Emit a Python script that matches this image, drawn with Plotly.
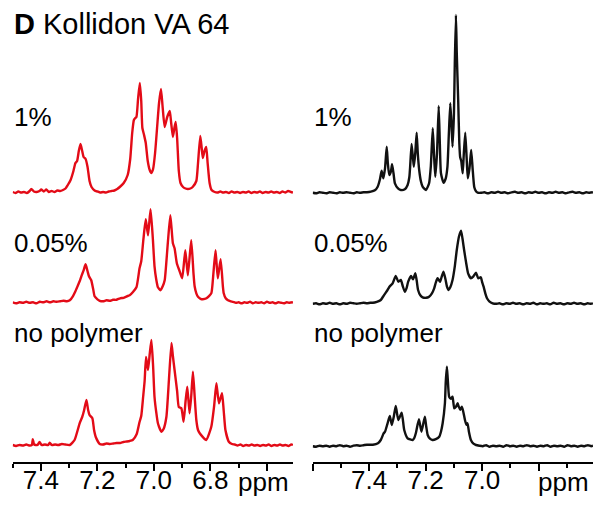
import plotly.graph_objects as go

# ---------------- data (ppm, intensity) ----------------
L_1PCT_PPM = [7.500, 7.490, 7.480, 7.470, 7.460, 7.450, 7.440, 7.434, 7.425, 7.415, 7.405, 7.399, 7.390, 7.381,
              7.372, 7.362, 7.352, 7.342, 7.332, 7.322, 7.313,
              7.305, 7.295, 7.285, 7.278, 7.272, 7.266, 7.260, 7.254, 7.249, 7.242, 7.235, 7.228, 7.221, 7.210,
              7.200, 7.190, 7.180, 7.170, 7.160, 7.150, 7.140, 7.130, 7.121, 7.107, 7.093, 7.084, 7.077, 7.071,
              7.066, 7.062, 7.056, 7.050, 7.045, 7.041, 7.035, 7.029, 7.022, 7.015, 7.009, 7.003, 6.996, 6.989,
              6.982, 6.975, 6.969, 6.962, 6.953, 6.944, 6.939, 6.933, 6.927, 6.923, 6.918, 6.912, 6.906, 6.897,
              6.888, 6.880, 6.871, 6.863, 6.850, 6.844, 6.836, 6.831, 6.827, 6.821, 6.815, 6.810, 6.803, 6.796,
              6.785, 6.775, 6.765, 6.755, 6.745, 6.735, 6.725, 6.715, 6.705, 6.695, 6.685, 6.675, 6.665, 6.655,
              6.645, 6.635, 6.625, 6.615, 6.605, 6.595, 6.585, 6.575, 6.565, 6.555, 6.545, 6.535, 6.525, 6.515,
              6.508]
L_1PCT_INT = [1, 0, 1.5, 0.5, 1, 0, 2, 4, 1.5, 1, 2, 3.5, 1.5, 3.5,
              1, 2, 1, 2.5, 2, 3, 4.5,
              8, 13, 22, 30, 32, 42, 49, 42, 36, 34, 26, 12, 6, 2.5,
              1.5, 0.5, 1, 0.5, 1.5, 2, 2.5, 4, 6, 10, 18, 34, 60, 73,
              75, 76, 95, 110, 92, 65, 58, 50, 32, 23, 20, 24, 40, 65,
              90, 104, 85, 66, 76, 82, 70, 56, 66, 71, 55, 22, 10, 6,
              4.5, 4, 4.5, 6, 12, 30, 57, 45, 35, 42, 46, 30, 10, 3,
              1, 0.5, 1.5, 0.5, 1, 0, 1.5, 0.5, 1, 0, 1, 0.5, 1.5, 0,
              1, 0.5, 1.5, 0, 1, 0.5, 1.5, 0.5, 1, 0, 1.5, 0.5, 2, 1,
              0.5]

L_005_PPM = [7.500, 7.488, 7.476, 7.464, 7.452, 7.440, 7.428, 7.416, 7.404, 7.392, 7.380, 7.368, 7.356, 7.344,
             7.332, 7.320, 7.308, 7.298,
             7.287, 7.278, 7.269, 7.263, 7.257, 7.249, 7.242, 7.235, 7.230, 7.222, 7.215, 7.210, 7.200, 7.192,
             7.180, 7.168, 7.156, 7.145, 7.133, 7.120, 7.108, 7.096, 7.086, 7.075, 7.062, 7.051, 7.045, 7.037,
             7.029, 7.021, 7.012, 7.004, 6.998, 6.992, 6.986, 6.977, 6.969, 6.962, 6.951, 6.942, 6.933, 6.927,
             6.919, 6.909, 6.900, 6.889, 6.880, 6.868, 6.860, 6.856, 6.850, 6.844, 6.835, 6.827, 6.814, 6.797,
             6.791, 6.782, 6.774, 6.764, 6.756, 6.753, 6.746, 6.738, 6.728, 6.720,
             6.710, 6.700, 6.690, 6.680, 6.670, 6.660, 6.650, 6.640, 6.630, 6.620, 6.610, 6.600, 6.590, 6.580,
             6.570, 6.560, 6.550, 6.540, 6.530, 6.520, 6.508]
L_005_INT = [1, 0, 1, 0.5, 1.5, 0.5, 1, 0, 1.5, 1, 2, 1, 2, 1.5,
             2, 2.5, 2, 3,
             7, 12, 18, 22, 27, 33, 39, 32, 27, 23, 14, 7, 4, 2.5,
             2, 3, 2.5, 3.5, 3.5, 5, 5.5, 7, 8, 11, 16, 35, 42, 65,
             84, 68, 94, 65, 37, 24, 16, 13, 17, 23, 60, 88, 60, 55,
             40, 32, 25, 53, 28, 63, 30, 17, 10, 6.5, 4.5, 4, 5, 10,
             25, 53, 25, 44, 17, 10, 5, 3, 2, 1.5,
             0.5, 1, 0, 1, 0.5, 1.5, 0, 1, 0.5, 1, 0, 1.5, 0.5, 1,
             0, 1, 0.5, 0, 1, 0.5, 1]

L_NOP_PPM = [7.500, 7.488, 7.476, 7.464, 7.452, 7.440, 7.432, 7.429, 7.424, 7.412, 7.405, 7.398, 7.386, 7.374,
             7.369, 7.362, 7.350, 7.338, 7.326, 7.314, 7.298,
             7.281, 7.263, 7.254, 7.247, 7.239, 7.233, 7.228, 7.218, 7.212, 7.206, 7.192,
             7.180, 7.168, 7.156, 7.144, 7.132, 7.120, 7.108, 7.096, 7.086, 7.075, 7.061, 7.051, 7.045, 7.038,
             7.033, 7.028, 7.021, 7.015, 7.009, 7.003, 6.998, 6.992, 6.986, 6.974, 6.966, 6.956, 6.947, 6.938,
             6.933, 6.927, 6.918, 6.912, 6.903, 6.895, 6.888, 6.882, 6.874, 6.868, 6.862, 6.856, 6.850, 6.844,
             6.838, 6.815, 6.797, 6.787, 6.779, 6.770, 6.759, 6.753, 6.747, 6.735, 6.724, 6.714,
             6.704, 6.694, 6.684, 6.674, 6.664, 6.654, 6.644, 6.634, 6.624, 6.614, 6.604, 6.594, 6.584, 6.574,
             6.564, 6.554, 6.544, 6.534, 6.524, 6.514, 6.508]
L_NOP_INT = [1, 0, 1, 0.5, 1.5, 0.5, 1, 6.7, 1.5, 1, 4, 1, 1.5, 1,
             3.3, 1, 1.5, 1, 2, 1.5, 1,
             6, 22.7, 29, 36, 46, 36, 31, 27.7, 16, 9, 2,
             1.5, 2.5, 2, 2.5, 3, 3, 4, 4.5, 5, 6, 12, 24, 30, 50,
             65, 89, 76, 92, 106, 80, 49, 34, 22.7, 14.3, 17, 29, 66, 103,
             90, 76, 55, 39, 37.7, 24.3, 45, 59.3, 32.7, 50, 74.3, 50, 26, 16,
             12.7, 6, 19.3, 40, 62.7, 42.7, 52.7, 35, 16, 4.3, 2, 1.5,
             0.5, 1.5, 0, 1, 0.5, 1.5, 0.5, 1, 0, 1, 0.5, 1.5, 0, 1,
             0.5, 1.5, 0.5, 1, 0, 1.5, 1]

R_1PCT_PPM = [7.600, 7.588, 7.576, 7.564, 7.552, 7.540, 7.528, 7.516, 7.504, 7.492, 7.480, 7.468, 7.456, 7.444,
              7.432, 7.420, 7.408,
              7.394, 7.380, 7.370, 7.362, 7.356, 7.350, 7.344, 7.338, 7.334, 7.329, 7.323, 7.319, 7.314, 7.309,
              7.298, 7.288, 7.274, 7.264, 7.258, 7.255, 7.250, 7.245, 7.242, 7.237, 7.232, 7.228, 7.223, 7.217,
              7.211, 7.199, 7.188, 7.182, 7.175, 7.170, 7.166, 7.160, 7.154, 7.150, 7.146, 7.137, 7.129, 7.123,
              7.118, 7.113, 7.109, 7.105, 7.100, 7.097, 7.093, 7.090, 7.085, 7.081, 7.078, 7.074, 7.069, 7.065,
              7.060, 7.055, 7.051, 7.045, 7.039, 7.034, 7.028, 7.022, 7.016,
              7.004, 6.992, 6.980, 6.968, 6.956, 6.944, 6.932, 6.920, 6.908, 6.896, 6.884, 6.872, 6.860, 6.848,
              6.836, 6.824, 6.812, 6.800, 6.788, 6.776, 6.764, 6.752, 6.740, 6.728, 6.716, 6.704, 6.692, 6.680,
              6.668, 6.656, 6.644, 6.632, 6.620, 6.608]
R_1PCT_INT = [0.5, 0, 1, 0.5, 0, 1, 0.5, 0, 1, 0.5, 1, 0.5, 0, 1,
              0.5, 1, 1,
              1.6, 3, 6.6, 14, 22.6, 15, 25, 46.6, 30, 18.3, 22, 29, 20, 10,
              5, 3.3, 4, 8.3, 16, 27, 49.3, 35, 26.6, 40, 60.6, 40, 23.3, 12,
              6.6, 3.3, 10, 26.6, 65, 35, 16.6, 40, 87.3, 50, 20, 10.6, 15, 26.6,
              60, 90, 70, 46.6, 80, 130, 178.3, 140, 93, 50, 36, 32, 20, 40,
              60.6, 35, 15, 25, 43.3, 25, 6, 2, 0.6,
              0.5, 1, 0, 1, 0.5, 1.5, 0.5, 1, 0, 1, 1.5, 0.5, 1, 0,
              1, 0.5, 1.5, 0.5, 1, 0, 1, 0.5, 1.5, 0.5, 1, 0, 1, 1.5,
              0.5, 1, 0, 1, 0.5, 1]

R_005_PPM = [7.600, 7.588, 7.576, 7.564, 7.552, 7.540, 7.528, 7.516, 7.504, 7.492, 7.480, 7.468, 7.456, 7.444,
             7.432, 7.420, 7.408, 7.396,
             7.387, 7.373, 7.359, 7.348, 7.335, 7.327, 7.317, 7.306, 7.297, 7.288, 7.281, 7.274, 7.268, 7.262,
             7.252, 7.245, 7.237, 7.232, 7.227, 7.219, 7.211, 7.199, 7.188, 7.178, 7.170, 7.164, 7.158, 7.149,
             7.143, 7.137, 7.130, 7.125, 7.119, 7.113, 7.105, 7.097, 7.090, 7.082, 7.075, 7.070, 7.064, 7.056,
             7.050, 7.040, 7.031, 7.022, 7.014, 7.005, 7.000, 6.995, 6.989, 6.983, 6.975, 6.963,
             6.951, 6.939, 6.927, 6.915, 6.903, 6.891, 6.879, 6.867, 6.855, 6.843, 6.831, 6.819, 6.807, 6.795,
             6.783, 6.771, 6.759, 6.747, 6.735, 6.723, 6.711, 6.699, 6.687, 6.675, 6.663, 6.651, 6.639, 6.627,
             6.615, 6.608]
R_005_INT = [0.5, 1, 0, 1, 0.5, 1.5, 0.5, 1, 0, 1, 0.5, 1.5, 1, 0.5,
             1, 1.5, 1, 1.5,
             1.5, 2.5, 4.3, 9, 14.3, 18, 21, 28.3, 22.6, 24.3, 18, 12.6, 16, 22.6,
             28.3, 25, 31, 24, 14.3, 9, 7, 6.5, 7.6, 11, 16, 22, 26, 22.6,
             28, 32.6, 25, 18, 14.3, 17, 24.3, 38, 54.3, 68, 73.6, 66, 54.3, 40,
             31, 26, 28, 31.6, 26, 27, 22, 17.6, 11, 6, 3, 1,
             0.5, 1, 0, 1, 0.5, 1.5, 0.5, 1, 0, 1, 0.5, 1.5, 0, 1,
             0.5, 1, 0, 1.5, 0.5, 1, 0, 1, 0.5, 1.5, 0.5, 1, 0, 1,
             0.5, 1]

R_NOP_PPM = [7.600, 7.588, 7.576, 7.564, 7.552, 7.540, 7.528, 7.516, 7.504, 7.492, 7.480, 7.468, 7.456, 7.444,
             7.432, 7.420, 7.408, 7.396,
             7.387, 7.369, 7.359, 7.349, 7.344, 7.335, 7.327, 7.320, 7.313, 7.306, 7.297, 7.285, 7.276, 7.264,
             7.246, 7.240, 7.235, 7.224, 7.215, 7.203, 7.198, 7.193, 7.185, 7.176, 7.164, 7.152, 7.146, 7.140,
             7.132, 7.129, 7.125, 7.122, 7.117, 7.111, 7.105, 7.099, 7.093, 7.087, 7.083, 7.078, 7.072, 7.067,
             7.061, 7.056, 7.052, 7.047, 7.040, 7.031, 7.022,
             7.010, 6.998, 6.986, 6.974, 6.962, 6.950, 6.938, 6.926, 6.914, 6.902, 6.890, 6.878, 6.866, 6.854,
             6.842, 6.830, 6.818, 6.806, 6.794, 6.782, 6.770, 6.758, 6.746, 6.734, 6.722, 6.710, 6.698, 6.686,
             6.674, 6.662, 6.650, 6.638, 6.626, 6.614, 6.608]
R_NOP_INT = [0.5, 0, 1, 0.5, 1, 0, 1, 0.5, 1.5, 0.5, 1, 0, 1, 1.5,
             1, 1.5, 2, 2,
             2, 3.5, 6.7, 13.3, 15, 23.4, 30.7, 21.7, 30, 40.7, 26.7, 34, 16.7, 8.4,
             6.7, 9, 13.4, 27.4, 15, 30, 20, 11.7, 8, 6.7, 7.5, 10, 15, 23.4,
             43.4, 65, 80, 68, 50, 48, 50, 38.4, 40, 43.4, 40, 37, 40, 35,
             26.7, 22, 23.4, 15, 6.7, 3, 1.7,
             1, 0.5, 1.5, 0, 1, 0.5, 1, 0, 1.5, 0.5, 1, 0, 1, 0.5,
             1.5, 0.5, 1, 0, 1, 0.5, 1.5, 0, 1, 0.5, 1, 0, 1.5, 0.5,
             1, 0, 1, 0.5, 1.5, 0.5, 1]

SAMPLE_LABELS = ["1%", "0.05%", "no polymer"]
TICK_VALS = [7.6, 7.4, 7.2, 7.0, 6.8, 6.6]
TICK_TEXT_LEFT = ["", "7.4", "7.2", "7.0", "6.8", ""]
TICK_TEXT_RIGHT = ["", "7.4", "7.2", "7.0", "", ""]
MINOR_VALS = [7.5, 7.3, 7.1, 6.9, 6.7]
UNIT_LABEL = "ppm"

# ---------------- layout constants ----------------
W, H = 594, 505
AXIS_ROW = 462           # pixel row of the axis line
PLOT_H = AXIS_ROW
RED = "#e30b17"
BLACK = "#111111"
FONT = "Arial, Liberation Sans, sans-serif"
left_offsets = [269, 158.7, 16]
right_offsets = [268.7, 157.7, 15.3]


def px(page_x):
    return page_x / W


def py(page_y):
    return (AXIS_ROW - page_y) / PLOT_H


fig = go.Figure()

left_sets = [(L_1PCT_PPM, L_1PCT_INT), (L_005_PPM, L_005_INT), (L_NOP_PPM, L_NOP_INT)]
right_sets = [(R_1PCT_PPM, R_1PCT_INT), (R_005_PPM, R_005_INT), (R_NOP_PPM, R_NOP_INT)]

for (xs, ys), off in zip(left_sets, left_offsets):
    fig.add_trace(go.Scatter(x=xs, y=[v + off for v in ys], mode="lines",
                             line=dict(color=RED, width=2.4, shape="spline", smoothing=0.5),
                             xaxis="x", yaxis="y", showlegend=False, hoverinfo="skip"))
for (xs, ys), off in zip(right_sets, right_offsets):
    fig.add_trace(go.Scatter(x=xs, y=[v + off for v in ys], mode="lines",
                             line=dict(color=BLACK, width=2.4, shape="spline", smoothing=0.5),
                             xaxis="x2", yaxis="y", showlegend=False, hoverinfo="skip"))


def xaxis_style(domain, rng, ticktext):
    return dict(domain=domain, range=rng, showgrid=False, zeroline=False,
                showline=True, linecolor="black", linewidth=2,
                ticks="outside", ticklen=7, tickwidth=2, tickcolor="black",
                tickmode="array", tickvals=TICK_VALS, ticktext=ticktext,
                tickfont=dict(family=FONT, size=26, color="black"),
                ticklabelstandoff=-13,
                minor=dict(tickmode="array", tickvals=MINOR_VALS, ticks="outside",
                           ticklen=4, tickwidth=2, tickcolor="black", showgrid=False),
                anchor="y", fixedrange=True)


fig.update_layout(
    width=W, height=H,
    margin=dict(l=0, r=0, t=0, b=H - PLOT_H, pad=0),
    paper_bgcolor="white", plot_bgcolor="white",
    xaxis=xaxis_style([px(12.7), px(293)], [7.5, 6.5078], TICK_TEXT_LEFT),
    xaxis2=xaxis_style([px(312.7), px(593)], [7.6, 6.6078], TICK_TEXT_RIGHT),
    yaxis=dict(range=[0, PLOT_H], visible=False, fixedrange=True),
    font=dict(family=FONT, color="black"),
)

ann = []
ann.append(dict(text="<b>D</b> Kollidon VA 64", xref="paper", yref="paper", x=px(12), y=py(24),
                xanchor="left", yanchor="middle", showarrow=False, font=dict(size=29)))
label_rows = [117, 243, 333]
for lab, row in zip(SAMPLE_LABELS, label_rows):
    for lx in (12, 312):
        ann.append(dict(text=lab, xref="paper", yref="paper", x=px(lx), y=py(row),
                        xanchor="left", yanchor="middle", showarrow=False, font=dict(size=26)))
for lx in (263, 563):
    ann.append(dict(text=UNIT_LABEL, xref="paper", yref="paper", x=px(lx), y=py(482),
                    xanchor="center", yanchor="middle", showarrow=False, font=dict(size=26)))
fig.update_layout(annotations=ann)

# remove the default page margin so the figure fills the window exactly
fig.write_html("out.html",
               config={"displayModeBar": False},
               post_script="document.body.style.margin='0';document.body.style.overflow='hidden';"
                           "document.documentElement.style.overflow='hidden';")
